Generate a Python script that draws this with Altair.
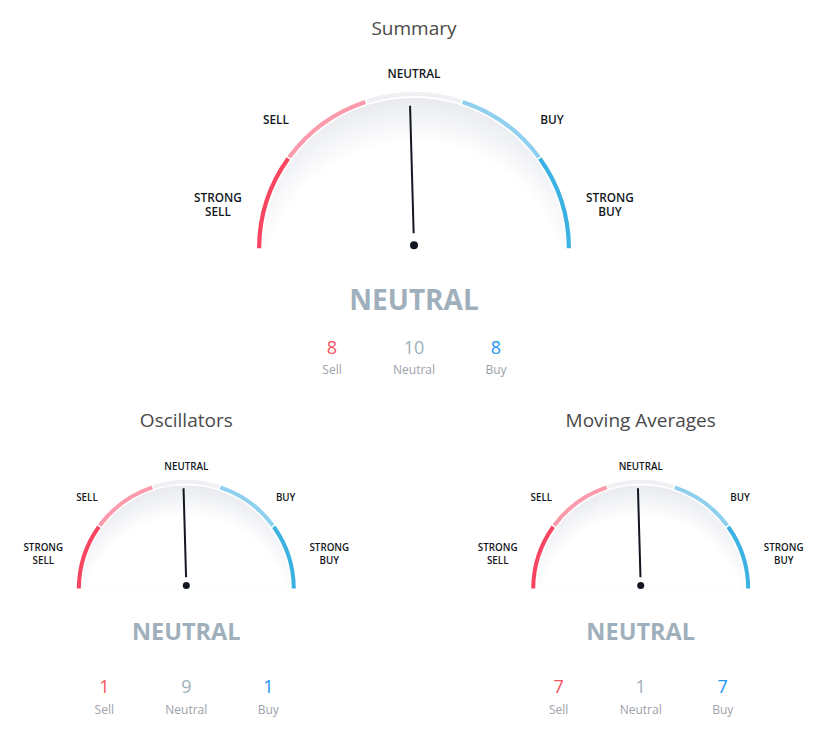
import math
import altair as alt
import pandas as pd

# ---------------- data ----------------
gauge_titles = ["Summary", "Oscillators", "Moving Averages"]
sell_counts = [8, 1, 7]
neutral_counts = [10, 9, 1]
buy_counts = [8, 1, 7]
rating_texts = ["NEUTRAL", "NEUTRAL", "NEUTRAL"]
# needle reading on the -1 (strong sell) .. +1 (strong buy) rating scale
needle_readings = [-0.018, -0.018, -0.018]
zone_names = ["STRONG SELL", "SELL", "NEUTRAL", "BUY", "STRONG BUY"]
zone_colors = ["#f84560", "#fb9aaa", "#eff0f3", "#8fd0ee", "#3cb2e2"]
count_names = ["Sell", "Neutral", "Buy"]
count_colors = ["#f7525f", "#9eb0bc", "#2196f3"]

# ---------------- layout (pixels) ----------------
LAYOUT = [
    dict(cx=414.0, cy=249.0, r=157.0, title_y=29, title_size=19, zone_size=11.8, zone_lh=14.6,
         rating_y=302, rating_size=28, count_y=348.5, name_y=370, dot=64, band=4.2),
    dict(cx=186.3, cy=589.3, r=109.5, title_y=421, title_size=19, zone_size=9.8, zone_lh=13.0,
         rating_y=632.5, rating_size=23.5, count_y=688, name_y=709.5, dot=50, band=4.0),
    dict(cx=640.7, cy=589.3, r=109.5, title_y=421, title_size=19, zone_size=9.8, zone_lh=13.0,
         rating_y=632.5, rating_size=23.5, count_y=688, name_y=709.5, dot=50, band=4.0),
]
# label centre offset from the gauge centre: dx = sx*(ax*r + bx), dy = -(ay*r + by)
ZONE_LABEL_POS = [(-1, 1.116, 20.8, 0.183, 16.2), (-1, 0.815, 10.1, 0.787, 6.4), (0, 0, 0, 1.103, 2.8),
                  (1, 0.815, 10.1, 0.787, 6.4), (1, 1.116, 20.8, 0.183, 16.2)]
COUNT_DX = [-82, 0, 82]
FONT = "Open Sans"

theta_scale = alt.Scale(domain=[-1, 1], range=[-math.pi / 2, math.pi / 2])

layers = []
zone_rows, title_rows, rating_rows, count_rows, name_rows = [], [], [], [], []

for g, L in enumerate(LAYOUT):
    cx, cy, r = L["cx"], L["cy"], L["r"]
    one = pd.DataFrame({"gauge": [gauge_titles[g]], "t0": [-1.0], "t1": [1.0]})

    # soft inner shading (stronger under the rim at the top, fading towards the base)
    fill = alt.RadialGradient(
        gradient="radial", x1=0.5, y1=0.9, x2=0.5, y2=0.9, r1=0, r2=0.65,
        stops=[alt.GradientStop(offset=0, color="#ffffff"),
               alt.GradientStop(offset=0.77, color="#ffffff"),
               alt.GradientStop(offset=1, color="#e8eaef")],
    )
    layers.append(
        alt.Chart(one).mark_arc(radius=r - L["band"] - 1.6, fill=fill, strokeWidth=0)
        .encode(theta=alt.Theta("t0:Q", scale=theta_scale), theta2="t1:Q",
                x=alt.value(cx), y=alt.value(cy))
    )

    # coloured zones
    zdf = pd.DataFrame({
        "zone": zone_names,
        "t0": [-1 + 0.4 * i for i in range(5)],
        "t1": [-1 + 0.4 * (i + 1) for i in range(5)],
        "color": zone_colors,
    })
    pad_r = math.sqrt(r ** 2 + (r - L["band"]) ** 2)
    layers.append(
        alt.Chart(zdf).mark_arc(radius=r, radius2=r - L["band"], padAngle=1.6 / pad_r)
        .encode(theta=alt.Theta("t0:Q", scale=theta_scale), theta2="t1:Q",
                color=alt.Color("color:N", scale=None),
                x=alt.value(cx), y=alt.value(cy))
    )

    # needle
    py = cy - 3.8
    ndf = pd.DataFrame({"v": [needle_readings[g]]})
    layers.append(
        alt.Chart(ndf).transform_calculate(
            a="datum.v * PI / 2",
        ).transform_calculate(
            x0=f"{cx} + {0.076 * r} * sin(datum.a)",
            y0=f"{py} - {0.076 * r} * cos(datum.a)",
            x1=f"{cx} + {0.888 * r} * sin(datum.a)",
            y1=f"{py} - {0.888 * r} * cos(datum.a)",
        ).mark_rule(strokeWidth=2, color="#131722")
        .encode(x=alt.X("x0:Q", scale=None), y=alt.Y("y0:Q", scale=None), x2="x1:Q", y2="y1:Q")
    )
    layers.append(
        alt.Chart(one).mark_circle(size=L["dot"], color="#131722", opacity=1)
        .encode(x=alt.value(cx), y=alt.value(py))
    )

    for i, z in enumerate(zone_names):
        sx, ax, bx, ay, by = ZONE_LABEL_POS[i]
        n_lines = len(z.split(" "))
        yc = cy - (ay * r + by) + 1
        zone_rows.append(dict(text=z, x=cx + sx * (ax * r + bx),
                              y=yc - (n_lines - 1) * L["zone_lh"] / 2,
                              fs=L["zone_size"], lh=L["zone_lh"]))
    title_rows.append(dict(text=gauge_titles[g], x=cx, y=L["title_y"], fs=L["title_size"]))
    rating_rows.append(dict(text=rating_texts[g], x=cx, y=L["rating_y"], fs=L["rating_size"]))
    vals = [sell_counts[g], neutral_counts[g], buy_counts[g]]
    for k in range(3):
        count_rows.append(dict(text=str(vals[k]), x=cx + COUNT_DX[k], y=L["count_y"], color=count_colors[k]))
        name_rows.append(dict(text=count_names[k], x=cx + COUNT_DX[k], y=L["name_y"]))

pos = dict(x=alt.X("x:Q", scale=None), y=alt.Y("y:Q", scale=None), text="text:N")

# zone labels, split into lines at the space; summary and small gauges differ in line height
zdf_all = pd.DataFrame(zone_rows)
for lh, sub in zdf_all.groupby("lh"):
    layers.append(
        alt.Chart(sub).mark_text(font=FONT, fontWeight=600, color="#131722", lineBreak=" ",
                                 lineHeight=float(lh), baseline="middle", align="center")
        .encode(size=alt.Size("fs:Q", scale=None), **pos)
    )

layers.append(
    alt.Chart(pd.DataFrame(title_rows)).mark_text(font=FONT, color="#4a4a4a", baseline="middle")
    .encode(size=alt.Size("fs:Q", scale=None), **pos)
)
layers.append(
    alt.Chart(pd.DataFrame(rating_rows)).mark_text(font=FONT, fontWeight="bold", color="#9fb0bc",
                                                   baseline="middle")
    .encode(size=alt.Size("fs:Q", scale=None), **pos)
)
layers.append(
    alt.Chart(pd.DataFrame(count_rows)).mark_text(font=FONT, fontSize=18, baseline="middle")
    .encode(color=alt.Color("color:N", scale=None), **pos)
)
layers.append(
    alt.Chart(pd.DataFrame(name_rows)).mark_text(font=FONT, fontSize=12, color="#9da1aa", baseline="middle")
    .encode(**pos)
)

chart = alt.layer(*layers).properties(
    width=834, height=742, padding=0, autosize="none", background="white"
).configure_view(stroke=None)

chart.save("out.html", embed_options={"renderer": "svg", "actions": False})
